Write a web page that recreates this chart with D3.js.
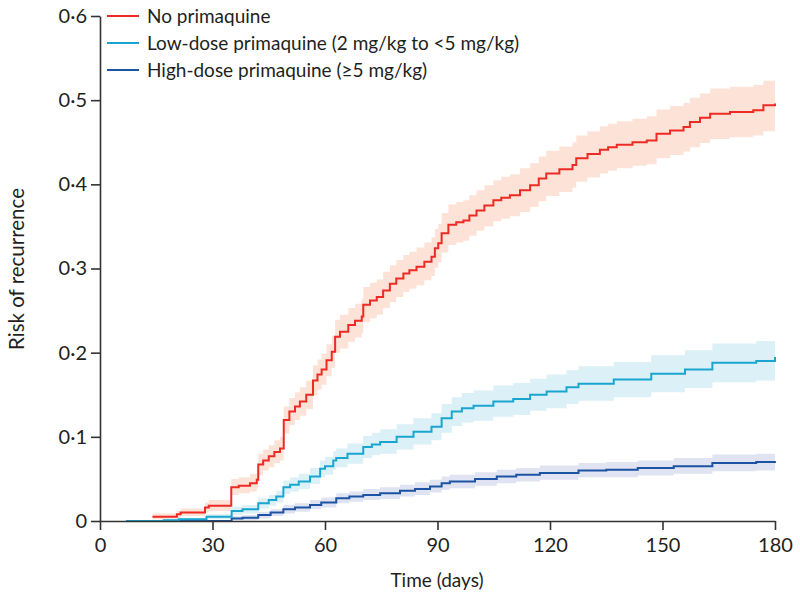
<!DOCTYPE html>
<html><head><meta charset="utf-8">
<script src="https://cdn.jsdelivr.net/npm/d3@7"></script>
<style>body{margin:0;background:#fff}svg{display:block}text{font-family:Lato,"Open Sans",sans-serif;fill:#231f20}</style>
</head><body><svg id="c" width="800" height="608"></svg>
<script>
// ---- data ----
const xTicks = [0, 30, 60, 90, 120, 150, 180];
const yTicks = [0, 0.1, 0.2, 0.3, 0.4, 0.5, 0.6];
const yTickLabels = ["0", "0·1", "0·2", "0·3", "0·4", "0·5", "0·6"];
const seriesNames = ["No primaquine", "Low-dose primaquine (2 mg/kg to <5 mg/kg)", "High-dose primaquine (≥5 mg/kg)"];

const noDays = [14,20.5,21.5,28,29,35,37,40,41.8,42.2,43.5,45,46.5,48,49,50.5,52,53.3,55,56.8,58,59.1,60.4,61.8,62.7,64,66.2,68,69.8,70.2,72,73.8,75.5,77.3,79,80.9,82.5,84.4,86.5,88.4,89.3,90.2,91.1,92.9,95,96.9,98.5,100.4,102.5,104.9,107,109.3,112,114.7,117,119,122.5,126,127,130,133.3,135.5,137.8,142,145.8,148.4,152,155.6,157.3,160,162.7,168,174.2,176.9,180];
const noEst = [0.005,0.008,0.010,0.016,0.018,0.040,0.042,0.045,0.049,0.067,0.072,0.077,0.082,0.086,0.120,0.130,0.136,0.142,0.150,0.167,0.174,0.180,0.191,0.201,0.219,0.225,0.233,0.238,0.243,0.257,0.262,0.266,0.274,0.282,0.288,0.294,0.298,0.302,0.308,0.314,0.324,0.330,0.342,0.352,0.355,0.357,0.363,0.369,0.375,0.381,0.384,0.387,0.393,0.399,0.407,0.413,0.418,0.423,0.431,0.436,0.441,0.444,0.447,0.450,0.452,0.460,0.464,0.468,0.474,0.479,0.484,0.486,0.488,0.494,0.496];
const noLo = [0.002,0.004,0.006,0.010,0.012,0.031,0.033,0.035,0.039,0.055,0.060,0.064,0.069,0.072,0.104,0.114,0.120,0.125,0.133,0.149,0.156,0.162,0.172,0.182,0.200,0.205,0.213,0.218,0.223,0.236,0.241,0.245,0.253,0.260,0.266,0.272,0.276,0.280,0.286,0.291,0.301,0.307,0.319,0.328,0.331,0.333,0.339,0.345,0.350,0.356,0.359,0.362,0.367,0.373,0.380,0.386,0.391,0.396,0.403,0.408,0.413,0.416,0.419,0.422,0.424,0.431,0.435,0.439,0.444,0.449,0.454,0.456,0.458,0.463,0.465];
const noHi = [0.009,0.012,0.015,0.022,0.025,0.050,0.052,0.056,0.060,0.080,0.085,0.090,0.096,0.100,0.136,0.146,0.153,0.159,0.167,0.185,0.192,0.199,0.210,0.220,0.239,0.245,0.253,0.258,0.264,0.278,0.283,0.287,0.296,0.304,0.310,0.316,0.320,0.325,0.331,0.337,0.347,0.353,0.366,0.376,0.379,0.381,0.387,0.393,0.399,0.405,0.409,0.412,0.419,0.425,0.433,0.440,0.445,0.450,0.458,0.463,0.469,0.472,0.475,0.478,0.481,0.489,0.493,0.497,0.503,0.508,0.514,0.516,0.518,0.523,0.525];

const lowDays = [7,17,21,28.4,35.1,38,42.2,45,47,48.9,50.7,53,56,58.7,60,62.2,63,66,70.2,72.5,74.7,79.1,83.6,88.4,91.1,93.8,96.5,99.6,104.9,110.2,114.7,119.1,124.4,127.6,137,147,156,163.3,175,180];
const lowEst = [0,0.001,0.002,0.005,0.012,0.014,0.021,0.025,0.029,0.040,0.043,0.047,0.053,0.062,0.065,0.072,0.075,0.080,0.088,0.091,0.094,0.100,0.106,0.112,0.122,0.130,0.134,0.137,0.142,0.145,0.150,0.154,0.159,0.163,0.168,0.175,0.180,0.188,0.190,0.195];
const lowLo = [0,0,0,0.002,0.007,0.009,0.015,0.018,0.022,0.032,0.035,0.038,0.044,0.052,0.055,0.061,0.064,0.068,0.075,0.078,0.080,0.085,0.091,0.096,0.105,0.113,0.117,0.119,0.124,0.126,0.131,0.134,0.139,0.143,0.147,0.153,0.158,0.165,0.167,0.171];
const lowHi = [0,0.003,0.004,0.008,0.017,0.019,0.027,0.031,0.036,0.048,0.052,0.056,0.063,0.072,0.076,0.083,0.086,0.092,0.101,0.105,0.109,0.115,0.122,0.128,0.139,0.147,0.152,0.155,0.161,0.164,0.169,0.174,0.179,0.184,0.189,0.197,0.203,0.211,0.214,0.219];

const highDays = [7,20,35.1,38,42.2,45.5,48.9,52,56,59,63,66.5,70.2,74.7,80,84,88,91.1,93.3,100,105.8,111,117.3,127.6,135,143.4,153,163.3,175,180];
const highEst = [0,0,0.003,0.004,0.007,0.010,0.014,0.016,0.019,0.022,0.027,0.029,0.031,0.033,0.036,0.038,0.041,0.045,0.047,0.050,0.053,0.055,0.057,0.060,0.061,0.063,0.065,0.069,0.070,0.071];
const highLo = [0,0,0.001,0.001,0.003,0.006,0.009,0.011,0.014,0.016,0.021,0.023,0.025,0.026,0.029,0.031,0.034,0.037,0.039,0.042,0.045,0.047,0.049,0.052,0.052,0.054,0.056,0.059,0.060,0.061];
const highHi = [0,0.001,0.006,0.007,0.011,0.014,0.019,0.021,0.025,0.028,0.033,0.035,0.038,0.040,0.043,0.046,0.049,0.053,0.055,0.058,0.061,0.063,0.066,0.069,0.070,0.072,0.075,0.079,0.080,0.082];

const lineColors = ["#ee2a24", "#1aa5cf", "#1c54a3"];
const bandColors = ["#fde3d7", "#dcf0f8", "#dfe3f2"];

// ---- build ----
const series = [
  {days: noDays, est: noEst, lo: noLo, hi: noHi},
  {days: lowDays, est: lowEst, lo: lowLo, hi: lowHi},
  {days: highDays, est: highEst, lo: highLo, hi: highHi}
].map((s, k) => ({name: seriesNames[k], color: lineColors[k], band: bandColors[k],
  pts: s.days.map((d, i) => ({d, e: s.est[i], lo: s.lo[i], hi: s.hi[i]}))}));

const svg = d3.select("#c");
const x = d3.scaleLinear().domain([0, 180]).range([100, 775]);
const y = d3.scaleLinear().domain([0, 0.6]).range([521, 16]);

const area = d3.area().curve(d3.curveStepAfter).x(p => x(p.d)).y0(p => y(p.lo)).y1(p => y(p.hi));
const line = d3.line().curve(d3.curveStepAfter).x(p => x(p.d)).y(p => y(p.e));

series.forEach(s => svg.append("path").attr("d", area(s.pts)).attr("fill", s.band).attr("stroke", "none"));
[2, 1, 0].forEach(k => svg.append("path").attr("d", line(series[k].pts))
  .attr("fill", "none").attr("stroke", series[k].color).attr("stroke-width", 2));

// axes
const axisCol = "#333";
const gx = svg.append("g").attr("transform", "translate(0,521)")
  .call(d3.axisBottom(x).tickValues(xTicks).tickSize(9).tickPadding(5).tickSizeOuter(0));
const gy = svg.append("g").attr("transform", "translate(100,0)")
  .call(d3.axisLeft(y).tickValues(yTicks).tickFormat((d, i) => yTickLabels[i]).tickSize(9).tickPadding(4).tickSizeOuter(0));
[gx, gy].forEach(g => {
  g.select(".domain").attr("stroke", axisCol).attr("stroke-width", 1.6);
  g.selectAll(".tick line").attr("stroke", axisCol).attr("stroke-width", 1.6);
  g.selectAll(".tick text").attr("font-size", 20).attr("font-family", "Lato, sans-serif").attr("fill", "#231f20");
});
gx.selectAll(".tick text").attr("dy", "0.85em");

svg.append("text").attr("x", 437).attr("y", 587).attr("text-anchor", "middle").attr("font-size", 19).text("Time (days)");
svg.append("text").attr("transform", "translate(24,269) rotate(-90)").attr("text-anchor", "middle").attr("font-size", 20.5).text("Risk of recurrence");

// legend
const leg = svg.append("g");
series.forEach((s, i) => {
  const yy = 16 + i * 27;
  leg.append("line").attr("x1", 107).attr("x2", 139).attr("y1", yy).attr("y2", yy).attr("stroke", s.color).attr("stroke-width", 2);
  leg.append("text").attr("x", 147).attr("y", yy).attr("dy", "0.35em").attr("font-size", 19).text(s.name);
});
</script></body></html>
